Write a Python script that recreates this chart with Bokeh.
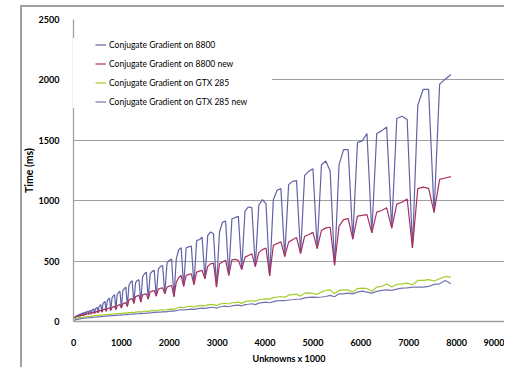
from bokeh.plotting import figure
from bokeh.models import Range1d, FixedTicker, Legend, LegendItem, InlineStyleSheet
from bokeh.embed import file_html
from bokeh.resources import INLINE

# grid edge length n -> unknowns = n^3 (shown in thousands)
grid_n = list(range(24, 200))
unknowns_k = [n ** 3 / 1000 for n in grid_n]

cg_8800 = [
    30, 33, 34, 35, 32, 36, 37, 38, 34, 39, 41, 42, 36, 43, 45, 46,
    38, 47, 49, 51, 40, 51, 54, 56, 42, 56, 59, 61, 45, 61, 64, 67,
    48, 66, 70, 73, 51, 72, 76, 79, 54, 78, 82, 85, 58, 85, 90, 93,
    62, 94, 100, 104, 66, 105, 112, 118, 72, 122, 132, 140, 78, 145, 158, 165,
    85, 170, 185, 195, 92, 195, 212, 222, 100, 225, 240, 250, 112, 255, 272, 285,
    125, 300, 325, 338, 150, 320, 340, 345, 160, 370, 395, 409, 185, 395, 415, 423,
    210, 435, 455, 464, 230, 485, 505, 517, 205, 519, 594, 611, 290, 610, 618, 625,
    305, 671, 677, 699, 354, 713, 741, 727, 285, 741, 823, 831, 381, 851, 860, 870,
    430, 914, 948, 942, 455, 962, 1009, 976, 378, 1009, 1086, 1100, 538, 1133, 1160, 1166,
    563, 1210, 1243, 1265, 604, 1298, 1329, 1246, 466, 1298, 1423, 1423, 681, 1481, 1495, 1556,
    734, 1556, 1578, 1610, 773, 1680, 1699, 1672, 608, 1790, 1921, 1921, 903, 1965, 2006, 2045,
]

cg_8800_new = [
    30, 31, 32, 32, 32, 33, 34, 35, 34, 35, 36, 37, 36, 38, 39, 40,
    38, 41, 42, 43, 40, 44, 45, 46, 42, 47, 48, 50, 45, 50, 52, 53,
    48, 54, 56, 57, 51, 58, 60, 61, 54, 62, 64, 66, 58, 67, 69, 71,
    62, 72, 75, 77, 66, 78, 81, 84, 72, 86, 90, 93, 78, 96, 100, 104,
    85, 106, 110, 114, 92, 116, 121, 125, 100, 130, 136, 140, 112, 146, 152, 156,
    125, 178, 185, 190, 150, 205, 212, 216, 160, 220, 226, 229, 185, 245, 252, 257,
    210, 268, 275, 279, 230, 285, 293, 298, 205, 326, 362, 381, 290, 381, 390, 395,
    305, 409, 417, 423, 354, 456, 478, 483, 285, 478, 492, 506, 381, 511, 514, 506,
    430, 533, 547, 561, 455, 570, 595, 608, 378, 630, 645, 660, 538, 657, 677, 695,
    563, 706, 720, 738, 604, 754, 775, 780, 466, 790, 843, 851, 681, 873, 879, 884,
    734, 906, 919, 941, 773, 972, 987, 1014, 608, 1100, 1113, 1102, 903, 1177, 1188, 1199,
]

cg_gtx285 = [
    18, 19, 19, 20, 20, 21, 21, 22, 22, 23, 23, 24, 24, 25, 25, 26,
    26, 27, 27, 28, 28, 29, 30, 30, 30, 31, 32, 32, 32, 33, 34, 34,
    34, 35, 36, 36, 36, 37, 38, 38, 38, 39, 40, 41, 41, 42, 43, 44,
    44, 45, 46, 47, 47, 48, 49, 50, 50, 51, 52, 53, 53, 54, 55, 56,
    56, 57, 58, 59, 59, 61, 62, 63, 62, 65, 66, 67, 66, 69, 70, 71,
    70, 73, 74, 76, 74, 78, 79, 81, 78, 83, 85, 86, 83, 88, 90, 91,
    88, 93, 95, 96, 93, 99, 101, 103, 100, 110, 116, 119, 112, 122, 124, 126,
    118, 128, 131, 133, 128, 138, 140, 142, 130, 145, 148, 151, 145, 155, 157, 160,
    150, 165, 168, 172, 168, 180, 184, 188, 185, 198, 203, 207, 200, 218, 222, 226,
    210, 235, 237, 232, 225, 245, 257, 262, 230, 257, 262, 262, 243, 273, 276, 273,
    250, 284, 290, 310, 285, 307, 312, 318, 304, 340, 340, 346, 335, 354, 373, 368,
]

cg_gtx285_new = [
    8, 9, 9, 10, 10, 11, 11, 12, 12, 13, 13, 14, 14, 15, 15, 16,
    16, 17, 17, 18, 18, 19, 19, 20, 20, 21, 21, 22, 22, 23, 23, 24,
    24, 25, 25, 26, 26, 27, 27, 28, 28, 29, 29, 30, 30, 31, 32, 32,
    32, 33, 34, 35, 35, 36, 37, 38, 38, 39, 40, 41, 41, 42, 43, 44,
    44, 45, 46, 47, 47, 48, 49, 50, 50, 51, 52, 53, 53, 55, 56, 57,
    57, 59, 60, 61, 61, 63, 64, 65, 65, 67, 68, 70, 70, 72, 73, 75,
    75, 77, 78, 80, 80, 82, 84, 86, 86, 90, 95, 97, 95, 98, 100, 102,
    100, 105, 108, 110, 108, 113, 116, 118, 110, 120, 124, 127, 122, 130, 133, 136,
    130, 140, 143, 147, 140, 152, 156, 160, 155, 165, 170, 174, 172, 178, 180, 184,
    185, 195, 200, 202, 200, 203, 207, 216, 205, 229, 229, 235, 229, 243, 251, 243,
    235, 249, 257, 262, 257, 268, 276, 279, 285, 285, 285, 290, 307, 312, 340, 312,
]

series_names = [
    "Conjugate Gradient on 8800",
    "Conjugate Gradient on 8800 new",
    "Conjugate Gradient on GTX 285",
    "Conjugate Gradient on GTX 285 new",
]
series_colors = ["#6262a6", "#a8305f", "#a4cc2a", "#7474b2"]
x_ticks = [0, 1000, 2000, 3000, 4000, 5000, 6000, 7000, 8000, 9000]
y_ticks = [0, 500, 1000, 1500, 2000, 2500]

FONT = "Lato"
GRAY = "#a0a0a0"

p = figure(width=504, height=367, output_backend="svg", toolbar_location=None,
           x_range=Range1d(0, 9000), y_range=Range1d(0, 2500),
           min_border_left=73, min_border_right=0, min_border_top=19,
           min_border_bottom=46, background_fill_color="white",
           border_fill_color="white", outline_line_color=None)

renderers = []
for ys, c in zip([cg_8800, cg_8800_new, cg_gtx285, cg_gtx285_new], series_colors):
    r = p.line(unknowns_k, ys, line_color=c, line_width=1.2)
    renderers.append(r)

for ax in (p.xaxis[0], p.yaxis[0]):
    ax.axis_line_color = GRAY
    ax.axis_line_width = 1.3
    ax.major_tick_line_color = None
    ax.minor_tick_line_color = None
    ax.major_label_text_font = FONT
    ax.major_label_text_font_style = "bold"
    ax.major_label_text_font_size = "9px"
    ax.major_label_text_color = "black"
    ax.axis_label_text_font = FONT
    ax.axis_label_text_font_style = "bold"
    ax.axis_label_text_color = "black"

p.xaxis[0].ticker = FixedTicker(ticks=x_ticks)
p.yaxis[0].ticker = FixedTicker(ticks=y_ticks)
p.xaxis[0].major_label_standoff = 11
p.yaxis[0].major_label_standoff = 8
p.xaxis[0].axis_label = "Unknowns x 1000"
p.yaxis[0].axis_label = "Time (ms)"
p.xaxis[0].axis_label_text_font_size = "9px"
p.yaxis[0].axis_label_text_font_size = "10.5px"
p.xaxis[0].axis_label_standoff = 4
p.yaxis[0].axis_label_standoff = 1

p.xgrid.grid_line_color = None
p.ygrid.ticker = FixedTicker(ticks=y_ticks)
p.ygrid.grid_line_color = GRAY
p.ygrid.grid_line_width = 1

legend = Legend(
    items=[LegendItem(label=n, renderers=[r]) for n, r in zip(series_names, renderers)],
    location=(0, 213), orientation="vertical",
    title=" ", title_location="left", title_text_font_size="9px", title_standoff=12,
    label_text_font=FONT, label_text_font_size="8.5px", label_text_color="black",
    glyph_width=11, glyph_height=13, label_height=13, label_standoff=3,
    spacing=6, padding=5, margin=0, label_width=163,
    background_fill_color="white", background_fill_alpha=1.0,
    border_line_color=None,
)
p.add_layout(legend, "center")

# outer chart-area border (left and top edges)
p.stylesheets = [InlineStyleSheet(css=(
    ":host::after { content: ''; position: absolute; left: 20px; top: 5px; "
    "width: calc(100% - 20px); height: calc(100% - 5px); box-sizing: border-box; "
    "border-left: 2px solid #a0a0a0; border-top: 2px solid #a0a0a0; "
    "pointer-events: none; }"
))]

open("out.html", "w").write(file_html(p, INLINE))
